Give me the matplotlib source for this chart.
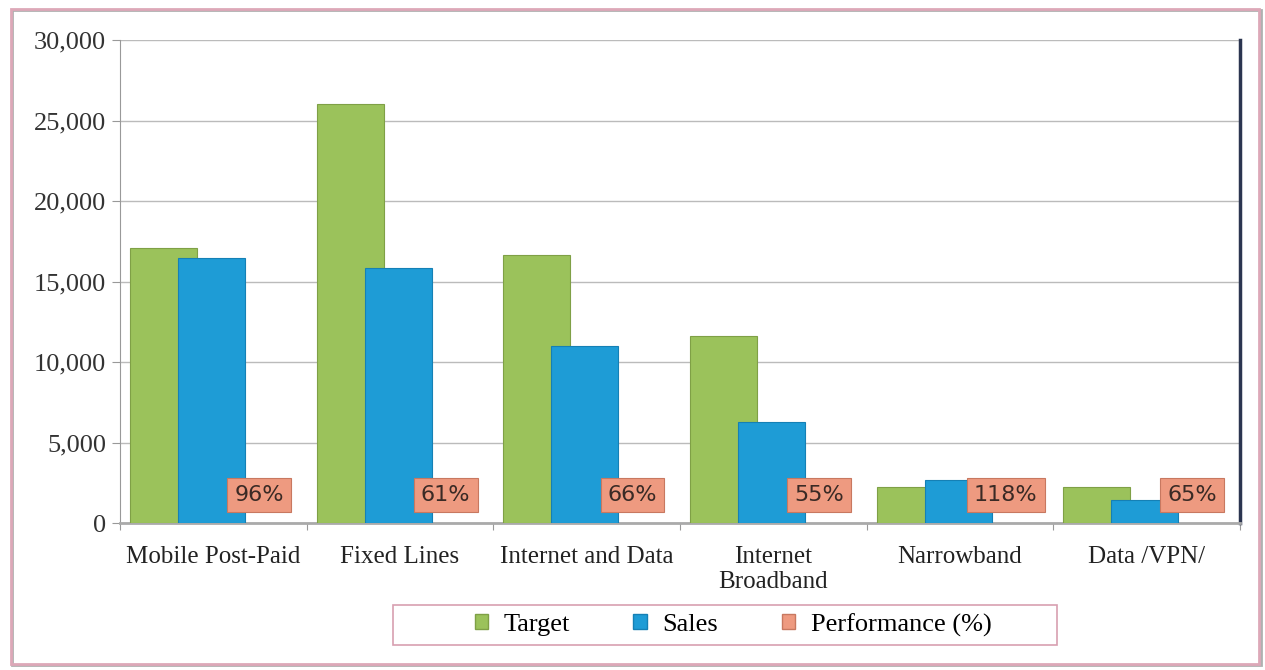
"""Target vs sales by product line, with performance labels"""
import matplotlib.pyplot as plt
from matplotlib.patches import Rectangle, Patch

categories = ['Mobile Post-Paid', 'Fixed Lines', 'Internet and Data',
              'Internet\nBroadband', 'Narrowband', 'Data /VPN/']
target = [17100, 26000, 16650, 11600, 2250, 2250]
sales = [16450, 15850, 11000, 6300, 2650, 1450]
performance = [96, 61, 66, 55, 118, 65]  # percent
y_ticks = [0, 5000, 10000, 15000, 20000, 25000, 30000]

GREEN = '#9BC25B'
BLUE = '#1E9CD6'
ORANGE = '#EE9A80'

plt.rcParams['font.family'] = ['Liberation Serif', 'DejaVu Serif']

fig = plt.figure(figsize=(12.65, 6.7), dpi=100)
W, H = 1265, 670
ax = fig.add_axes([120 / W, 1 - 523 / H, 1120 / W, 483 / H])

x = list(range(len(categories)))
w = 0.36
ax.bar([i - 0.267 for i in x], target, width=w, color=GREEN,
       edgecolor='#7FA046', linewidth=0.8, zorder=3, label='Target')
ax.bar([i - 0.01 for i in x], sales, width=w, color=BLUE,
       edgecolor='#1580B5', linewidth=0.8, zorder=4, label='Sales')

# performance values shown as boxed labels at the bottom of each group
for i, p in zip(x, performance):
    ax.text(i + 0.245, 1750, '%d%%' % p, ha='center', va='center',
            fontsize=16, family=['DejaVu Sans'], color='#3a2a25', zorder=6,
            bbox={'boxstyle': 'square,pad=0.32', 'facecolor': ORANGE,
                  'edgecolor': '#C87860', 'linewidth': 0.8})

ax.set_xlim(-0.5, 5.5)
ax.set_ylim(0, 30000)
ax.set_yticks(y_ticks)
ax.set_yticklabels(['{:,}'.format(v) for v in y_ticks], fontsize=19, color='#333333')
ax.yaxis.grid(True, color='#BBBBBB', linewidth=1, zorder=0)
ax.set_axisbelow(True)
ax.tick_params(axis='y', length=6, color='#999999', pad=4)

ax.set_xticks([i - 0.5 for i in x] + [5.5], minor=False)
ax.set_xticklabels([])
ax.tick_params(axis='x', length=5, color='#999999')
for i, name in zip(x, categories):
    ax.text(i, -1450, name, ha='center', va='top', fontsize=18,
            color='#222222', linespacing=1.15)

ax.spines['top'].set_visible(False)
ax.spines['left'].set_color('#999999')
ax.spines['bottom'].set_color('#AAAAAA')
ax.spines['bottom'].set_linewidth(2)
ax.spines['right'].set_color('#2B3550')
ax.spines['right'].set_linewidth(2.5)

# legend, with its own wider box
leg_handles = [Patch(facecolor=GREEN, edgecolor='#7FA046', label='Target'),
               Patch(facecolor=BLUE, edgecolor='#1580B5', label='Sales'),
               Patch(facecolor=ORANGE, edgecolor='#C87860', label='Performance (%)')]
fig.legend(handles=leg_handles, loc='center', ncol=3,
           bbox_to_anchor=(733 / W, 1 - 625 / H), fontsize=19,
           frameon=False, handlelength=0.5, handleheight=0.5,
           handletextpad=0.6, columnspacing=2.4, borderpad=0.3,
           borderaxespad=0)
fig.patches.append(Rectangle((393 / W, 1 - 645 / H), 664 / W, 40 / H,
                             transform=fig.transFigure, fill=False,
                             edgecolor='#D8A0B0', linewidth=1.2))

# outer chart border
fig.patches.append(Rectangle((12 / W, 5 / H), 1249 / W, 655 / H, transform=fig.transFigure,
                             fill=False, edgecolor='#B0B0B0', linewidth=2))
fig.patches.append(Rectangle((11 / W, 6 / H), 1248 / W, 655 / H, transform=fig.transFigure,
                             fill=False, edgecolor='#DDA8B8', linewidth=2))

fig.savefig('out.png', dpi=100)
